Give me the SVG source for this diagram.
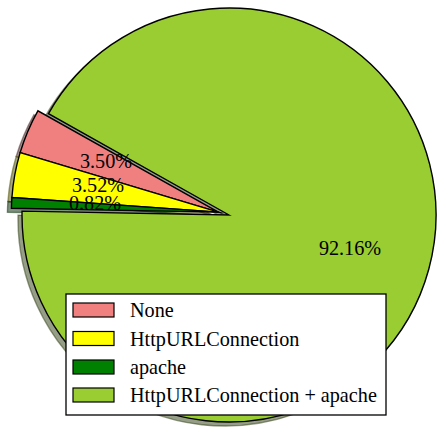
<svg xmlns="http://www.w3.org/2000/svg" width="437" height="428" viewBox="0 0 437 428">
<style>
.w{stroke:#000;stroke-width:1.4;stroke-linejoin:miter;stroke-miterlimit:10}
.sh{stroke-width:1.4;fill-opacity:0.5;stroke-opacity:0.5}
.lbl{font-family:"Liberation Serif","Times New Roman",serif;font-size:20.2px;fill:#000}
.sw{stroke:#000;stroke-width:1.2}
</style>
<rect x="0" y="0" width="437" height="428" fill="#fff"/>
<g id="shadows" transform="translate(-4,4)">
<path class="sh" fill="#2e3e0f" stroke="#2e3e0f" d="M229,215 L48.5,113.7 A207,207 0 1 1 22.04,211.11 Z"/>
<path class="sh" fill="#482626" stroke="#482626" d="M218.4,212.1 L37.88,110.8 A207,207 0 0 0 20.13,152.62 Z"/>
<path class="sh" fill="#4d4d00" stroke="#4d4d00" d="M218.4,212.1 L20.13,152.62 A207,207 0 0 0 11.91,197.56 Z"/>
<path class="sh" fill="#002600" stroke="#002600" d="M218.4,212.1 L11.91,197.56 A207,207 0 0 0 11.44,208.21 Z"/>
</g>
<g id="slice-httpurl-apache">
<path class="w" fill="#9acd32" d="M229,215 L48.5,113.7 A207,207 0 1 1 22.04,211.11 Z"/>
</g>
<g id="slice-none">
<path class="w" fill="#f08080" d="M218.4,212.1 L37.88,110.8 A207,207 0 0 0 20.13,152.62 Z"/>
</g>
<g id="slice-httpurl">
<path class="w" fill="#ffff00" d="M218.4,212.1 L20.13,152.62 A207,207 0 0 0 11.91,197.56 Z"/>
</g>
<g id="slice-apache">
<path class="w" fill="#008000" d="M218.4,212.1 L11.91,197.56 A207,207 0 0 0 11.44,208.21 Z"/>
</g>
<g id="labels">
<text class="lbl" x="106" y="167.5" text-anchor="middle" font-family="Liberation Serif, serif">3.50%</text>
<text class="lbl" x="98" y="191.5" text-anchor="middle" font-family="Liberation Serif, serif">3.52%</text>
<text class="lbl" x="95" y="210" text-anchor="middle" font-family="Liberation Serif, serif">0.82%</text>
<text class="lbl" x="350" y="255" text-anchor="middle" font-family="Liberation Serif, serif">92.16%</text>
</g>
<g id="legend">
<rect x="66" y="294" width="320" height="121" fill="#fff" stroke="#000" stroke-width="1.3"/>
<rect class="sw" x="73" y="303" width="41" height="14" fill="#f08080"/>
<rect class="sw" x="73" y="331.5" width="41" height="14" fill="#ffff00"/>
<rect class="sw" x="73" y="360" width="41" height="14" fill="#008000"/>
<rect class="sw" x="73" y="388" width="41" height="14" fill="#9acd32"/>
<text class="lbl" x="130" y="317" font-family="Liberation Serif, serif">None</text>
<text class="lbl" x="130" y="345.5" font-family="Liberation Serif, serif">HttpURLConnection</text>
<text class="lbl" x="130" y="373.5" font-family="Liberation Serif, serif">apache</text>
<text class="lbl" x="130" y="402" font-family="Liberation Serif, serif">HttpURLConnection + apache</text>
</g>
</svg>
